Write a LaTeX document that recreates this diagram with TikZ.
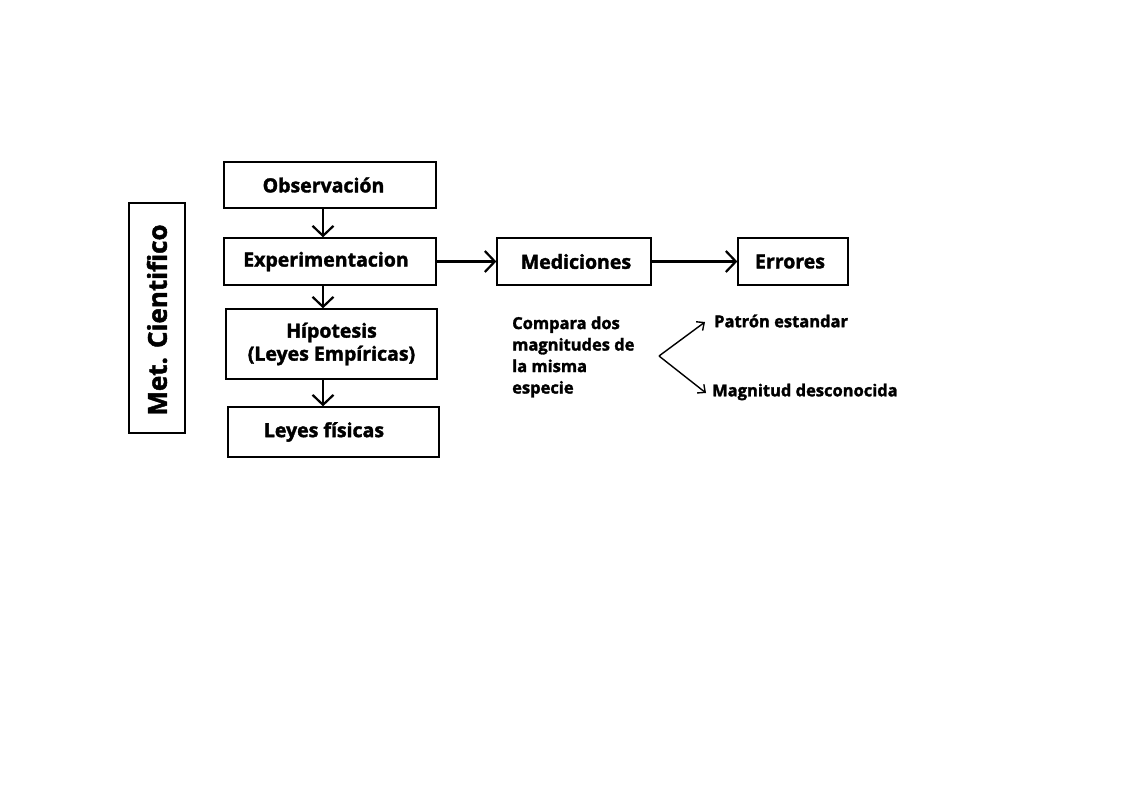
\documentclass[tikz,border=0pt]{standalone}
\usepackage{fontspec}
\setmainfont{Open Sans}[BoldFeatures={FakeBold=1.8}]
\usetikzlibrary{arrows.meta}
\begin{document}
\begin{tikzpicture}[x=1pt,y=-1pt,
  box/.style={draw,line width=1.3pt,rectangle,inner sep=0pt,font=\bfseries\fontsize{19.5}{23}\selectfont,align=center},
  arr/.style={line width=2.2pt,-{Straight Barb[length=10pt,width=21pt,line width=2.2pt]}},
  thin/.style={line width=1.4pt,-{Straight Barb[length=6pt,width=11pt,line width=1.4pt]}},
  lbl/.style={font=\bfseries\fontsize{16.5}{21.5}\selectfont,inner sep=0pt,anchor=west,align=left}]
\useasboundingbox (0,0) rectangle (1123,794);
\node[box,minimum width=212pt,minimum height=46pt] (obs) at (330,185) {\hspace*{-13pt}Observación};
\node[box,minimum width=212pt,minimum height=47pt] (exp) at (330,261.5) {\hspace*{-8pt}Experimentacion};
\node[box,minimum width=211pt,minimum height=70pt] (hip) at (331.5,344) {Hípotesis\\(Leyes Empíricas)};
\node[box,minimum width=211pt,minimum height=50pt] (ley) at (333.5,432) {\hspace*{-19pt}Leyes físicas};
\node[box,minimum width=56pt,minimum height=230pt] (met) at (157,318) {};
\node[font=\bfseries\fontsize{26}{29}\selectfont,rotate=90,inner sep=0pt] (mett) at (157,320) {Met. Cientifico};
\node[box,minimum width=154pt,minimum height=47pt] (med) at (574,261.5) {\hspace*{4pt}Mediciones};
\node[box,minimum width=110pt,minimum height=47pt] (err) at (793,261.5) {\raisebox{-3pt}{\hspace*{-6pt}Errores}};
\coordinate (ax) at (323,0);
\draw[arr] (obs.south -| ax) -- (exp.north -| ax);
\draw[arr] (exp.south -| ax) -- (hip.north -| ax);
\draw[arr] (hip.south -| ax) -- (ley.north -| ax);
\draw[arr] (exp.east) -- (med.west);
\draw[arr] (med.east) -- (err.west);
\node[lbl] (cmp) at (512,357) {Compara dos\\magnitudes de\\la misma\\especie};
\coordinate (br) at (659,356);
\node[lbl] (pat) at (714,321) {Patrón estandar};
\node[lbl] (mag) at (712,392) {Magnitud desconocida};
\draw[thin] (br) -- (705,322);
\draw[thin] (br) -- (706,393);
\end{tikzpicture}
\end{document}
